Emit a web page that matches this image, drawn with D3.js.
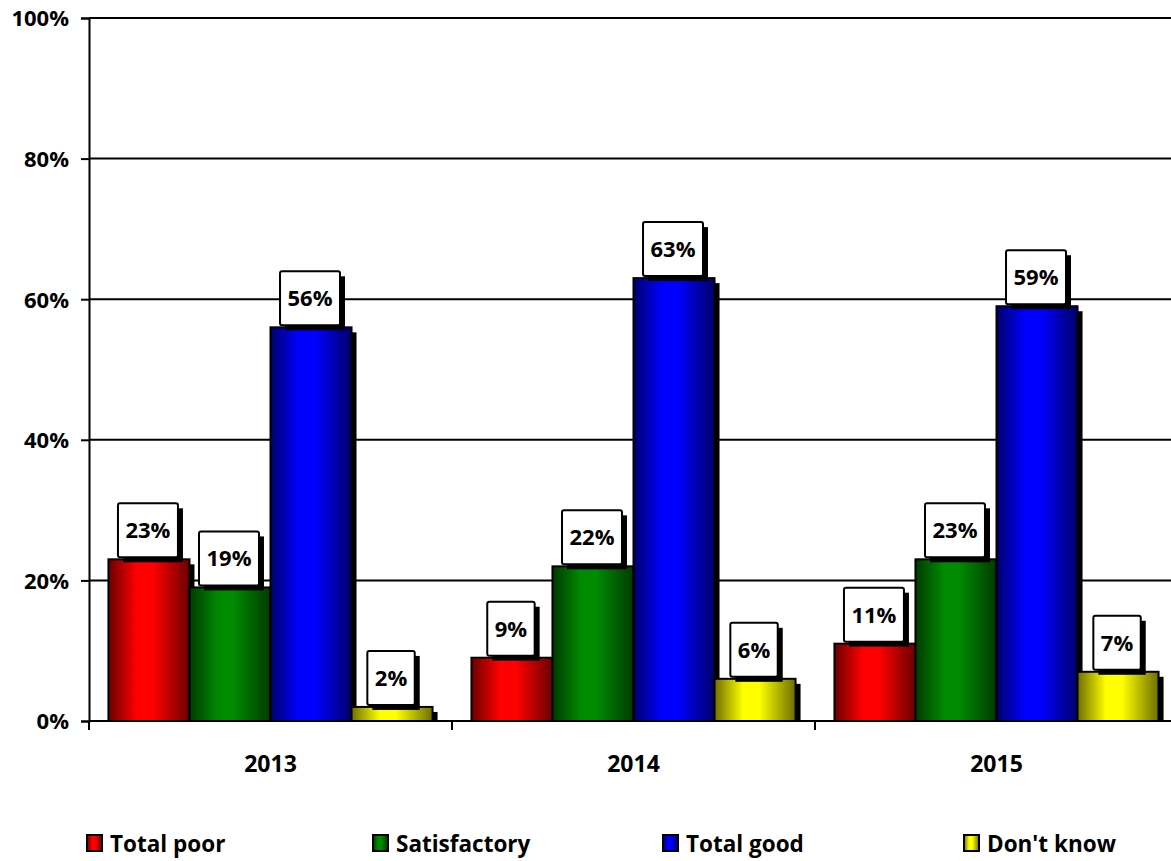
<!DOCTYPE html>
<html>
<head>
<meta charset="utf-8">
<script src="https://cdn.jsdelivr.net/npm/d3@7"></script>
<style>
  html, body { margin: 0; padding: 0; background: #fff; }
  svg { display: block; }
  text { font-family: "Open Sans", "Noto Sans", sans-serif; font-weight: bold; fill: #000; }
</style>
</head>
<body>
<svg id="chart" width="1171" height="861"></svg>
<script>
// Survey ratings by year (percent of respondents)
const years = ["2013", "2014", "2015"];
const seriesNames = ["Total poor", "Satisfactory", "Total good", "Don't know"];
const totalPoor = [23, 9, 11];
const satisfactory = [19, 22, 23];
const totalGood = [56, 63, 59];
const dontKnow = [2, 6, 7];
const yTicks = [0, 20, 40, 60, 80, 100];

const seriesValues = [totalPoor, satisfactory, totalGood, dontKnow];
// [dark edge, bright centre] for each series' cylinder-like shading
const seriesColors = [
  ["#6a0000", "#ff0000"],
  ["#003a00", "#008a00"],
  ["#00006a", "#0000ff"],
  ["#6e6e00", "#ffff00"]
];

const svg = d3.select("#chart");
const margin = { left: 89, top: 18, bottom: 721 };
const plotRight = 1178;

const x0 = d3.scaleBand().domain(years).range([margin.left, plotRight]).padding(0);
const x1 = d3.scaleBand().domain(seriesNames).range([0, x0.bandwidth()])
  .paddingInner(0).paddingOuter(0.24);
const y = d3.scaleLinear().domain([0, 100]).range([margin.bottom, margin.top]);

// Gradients
const defs = svg.append("defs");
seriesNames.forEach((name, i) => {
  const g = defs.append("linearGradient")
    .attr("id", "grad" + i).attr("x1", "0").attr("x2", "1").attr("y1", "0").attr("y2", "0");
  const [dark, bright] = seriesColors[i];
  g.append("stop").attr("offset", "0").attr("stop-color", dark);
  g.append("stop").attr("offset", "0.35").attr("stop-color", bright);
  g.append("stop").attr("offset", "0.55").attr("stop-color", bright);
  g.append("stop").attr("offset", "1").attr("stop-color", dark);
});

// Horizontal gridlines
svg.append("g").selectAll("line")
  .data(yTicks.filter(d => d > 0))
  .join("line")
  .attr("x1", margin.left).attr("x2", 1171)
  .attr("y1", d => y(d)).attr("y2", d => y(d))
  .attr("stroke", "#000").attr("stroke-width", 2);

// Y axis
const yAxis = svg.append("g")
  .attr("transform", `translate(${margin.left},0)`)
  .call(d3.axisLeft(y).tickValues(yTicks).tickFormat(d => d + "%").tickSize(8).tickPadding(12));
yAxis.attr("font-size", null).attr("font-family", null);
yAxis.select(".domain").attr("stroke", "#000").attr("stroke-width", 2);
yAxis.selectAll(".tick line").attr("stroke", "#000").attr("stroke-width", 2);
yAxis.selectAll(".tick text").attr("font-size", 22).attr("dy", "0.36em");

// Flattened bar data
const bars = [];
years.forEach((yr, gi) => {
  seriesNames.forEach((s, si) => {
    bars.push({ year: yr, series: s, si, value: seriesValues[si][gi] });
  });
});

const barG = svg.append("g");
const shadowOff = 5;
bars.forEach(d => {
  const bx = x0(d.year) + x1(d.series);
  const by = y(d.value);
  const bh = y(0) - by;
  barG.append("rect")
    .attr("x", bx + shadowOff).attr("y", by + shadowOff)
    .attr("width", x1.bandwidth()).attr("height", Math.max(0, bh - shadowOff))
    .attr("fill", "#000");
  barG.append("rect")
    .attr("x", bx).attr("y", by)
    .attr("width", x1.bandwidth()).attr("height", bh)
    .attr("fill", `url(#grad${d.si})`)
    .attr("stroke", "#000").attr("stroke-width", 2);
});

// Bottom axis line and category ticks
svg.append("line")
  .attr("x1", margin.left).attr("x2", 1171)
  .attr("y1", y(0)).attr("y2", y(0))
  .attr("stroke", "#000").attr("stroke-width", 2);
const xAxis = svg.append("g");
xAxis.selectAll("line")
  .data(years.map(d => x0(d)).concat([plotRight]))
  .join("line")
  .attr("x1", d => d).attr("x2", d => d)
  .attr("y1", y(0)).attr("y2", y(0) + 9)
  .attr("stroke", "#000").attr("stroke-width", 2);
xAxis.selectAll("text")
  .data(years)
  .join("text")
  .attr("x", d => x0(d) + x0.bandwidth() / 2)
  .attr("y", 772)
  .attr("text-anchor", "middle")
  .attr("font-size", 23)
  .text(d => d);

// Value labels in shadowed boxes
const labelG = svg.append("g");
bars.forEach(d => {
  const cx = x0(d.year) + x1(d.series) + x1.bandwidth() / 2 - 1;
  const boxBottom = y(d.value) - 2;
  const g = labelG.append("g");
  const t = g.append("text")
    .attr("font-size", 22)
    .attr("text-anchor", "middle")
    .text(d.value + "%");
  const tw = t.node().getComputedTextLength();
  const bw = tw + 15, bh = 54;
  const bx = cx - bw / 2, byTop = boxBottom - bh;
  g.insert("rect", "text")
    .attr("x", bx + 5).attr("y", byTop + 5).attr("width", bw).attr("height", bh)
    .attr("fill", "#000");
  g.insert("rect", "text")
    .attr("x", bx).attr("y", byTop).attr("width", bw).attr("height", bh)
    .attr("rx", 2)
    .attr("fill", "#fff").attr("stroke", "#000").attr("stroke-width", 2);
  t.attr("x", cx).attr("y", byTop + bh / 2 + 8);
});

// Legend
const legendX = [87, 373, 663, 964];
const legend = svg.append("g");
seriesNames.forEach((s, i) => {
  legend.append("rect")
    .attr("x", legendX[i]).attr("y", 835).attr("width", 15).attr("height", 16)
    .attr("fill", `url(#grad${i})`).attr("stroke", "#000").attr("stroke-width", 2);
  legend.append("text")
    .attr("x", legendX[i] + 23).attr("y", 852)
    .attr("font-size", 22.5)
    .text(s);
});
</script>
</body>
</html>
